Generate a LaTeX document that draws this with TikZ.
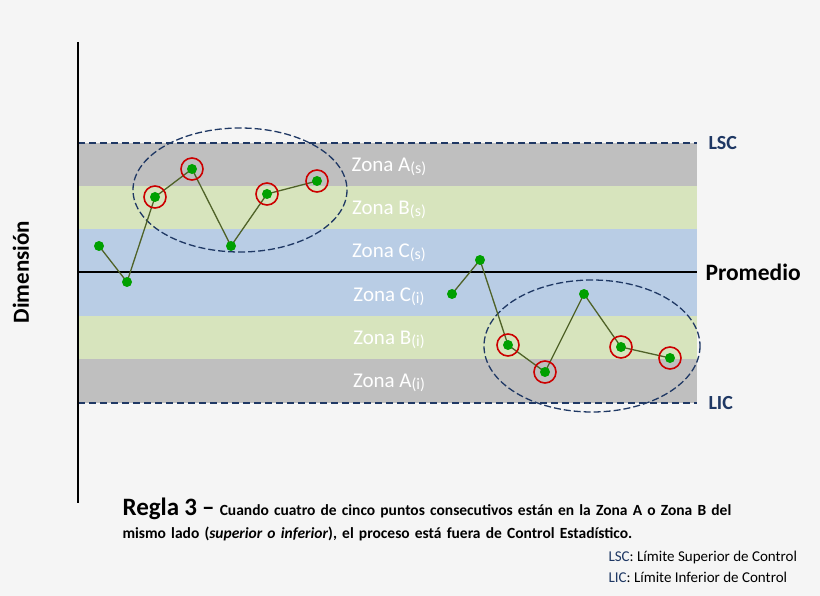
\documentclass[tikz,border=0pt]{standalone}
\usepackage{fontspec}
\setmainfont{Carlito}
\usetikzlibrary{positioning}
\definecolor{zonaA}{HTML}{BFBFBF}
\definecolor{zonaB}{HTML}{D7E4BD}
\definecolor{zonaC}{HTML}{B9CDE5}
\definecolor{marino}{HTML}{1F3864}
\definecolor{linea}{HTML}{4F6228}
\definecolor{punto}{HTML}{00A000}
\begin{document}
\begin{tikzpicture}[x=1pt,y=-1pt,
	zona/.style={text=white,font=\fontsize{21}{22}\selectfont},
	limite/.style={marino,line width=1.8pt,dash pattern=on 7pt off 4pt},
	grupo/.style={marino,line width=1.3pt,dash pattern=on 7pt off 3pt},
	pt/.style={circle,fill=punto,inner sep=0pt,minimum size=10pt},
	fuera/.style={draw=red!80!black,line width=1.6pt,circle,minimum size=22pt,inner sep=0pt},
	etiqueta/.style={font=\bfseries\fontsize{20}{22}\selectfont,anchor=west}]

\fill[white!96!black] (0,0) rectangle (820,596);
\useasboundingbox (0,0) rectangle (820,596);

% zonas
\fill[zonaA] (78,143) rectangle (697,186);
\fill[zonaB] (78,186) rectangle (697,229);
\fill[zonaC] (78,229) rectangle (697,316);
\fill[zonaB] (78,316) rectangle (697,359);
\fill[zonaA] (78,359) rectangle (697,403);
\node[zona] (As) at (389,167) {Zona A\raisebox{-2pt}{\fontsize{16}{16}\selectfont(s)}};
\node[zona] (Bs) at (389,210) {Zona B\raisebox{-2pt}{\fontsize{16}{16}\selectfont(s)}};
\node[zona] (Cs) at (389,253) {Zona C\raisebox{-2pt}{\fontsize{16}{16}\selectfont(s)}};
\node[zona] (Ci) at (389,297) {Zona C\raisebox{-2pt}{\fontsize{16}{16}\selectfont(i)}};
\node[zona] (Bi) at (389,340) {Zona B\raisebox{-2pt}{\fontsize{16}{16}\selectfont(i)}};
\node[zona] (Ai) at (389,383) {Zona A\raisebox{-2pt}{\fontsize{16}{16}\selectfont(i)}};

% limites
\draw[limite] (78,143) -- (697,143);
\draw[limite] (78,403) -- (697,403);
\draw[line width=1.8pt] (78,272) -- (697,272);
\node[etiqueta,text=marino] (lsc) at (705,143) {LSC};
\node[etiqueta,text=marino] (lic) at (705,403) {LIC};
\node[etiqueta,font=\bfseries\fontsize{23.5}{25}\selectfont] (prom) at (702,272) {Promedio};

% eje
\draw[line width=2.2pt] (78,42) -- (78,503);
\node[rotate=90,font=\bfseries\fontsize{23}{25}\selectfont] (dim) at (21,272) {Dimensión};

% grupos
\draw[grupo] (240,190) ellipse[x radius=107,y radius=62];
\draw[grupo] (592,346) ellipse[x radius=108,y radius=66];

% puntos
\foreach \i/\x/\y in {1/99/246,2/127/282,3/155/197,4/192/169,5/231/246,6/267/194,7/317/181,
	8/452/294,9/480/260,10/508/345,11/545/372,12/584/294,13/621/347,14/670/358}
	\coordinate (p\i) at (\x,\y);
\draw[linea,line width=1.3pt] (p1) -- (p2) -- (p3) -- (p4) -- (p5) -- (p6) -- (p7);
\draw[linea,line width=1.3pt] (p8) -- (p9) -- (p10) -- (p11) -- (p12) -- (p13) -- (p14);
\foreach \i in {3,4,6,7,10,11,13,14}
	\node[fuera] (r\i) at (p\i) {};
\foreach \i in {1,...,14}
	\node[pt] (n\i) at (p\i) {};

% texto
\node[anchor=north west,align=left,font=\bfseries\fontsize{15.5}{23}\selectfont,text width=680pt] (regla) at (119,494)
	{{\fontsize{25}{23}\selectfont Regla 3 –} Cuando cuatro de cinco puntos consecutivos están en la Zona A o Zona B del\\
	mismo lado (\textit{superior o inferior}), el proceso está fuera de Control Estadístico.};
\node[anchor=west,font=\fontsize{15}{17}\selectfont] (ley1) at (605,557) {\textcolor{marino}{LSC}: Límite Superior de Control};
\node[anchor=west,font=\fontsize{15}{17}\selectfont] (ley2) at (605,577) {\textcolor{marino}{LIC}: Límite Inferior de Control};
\end{tikzpicture}
\end{document}
